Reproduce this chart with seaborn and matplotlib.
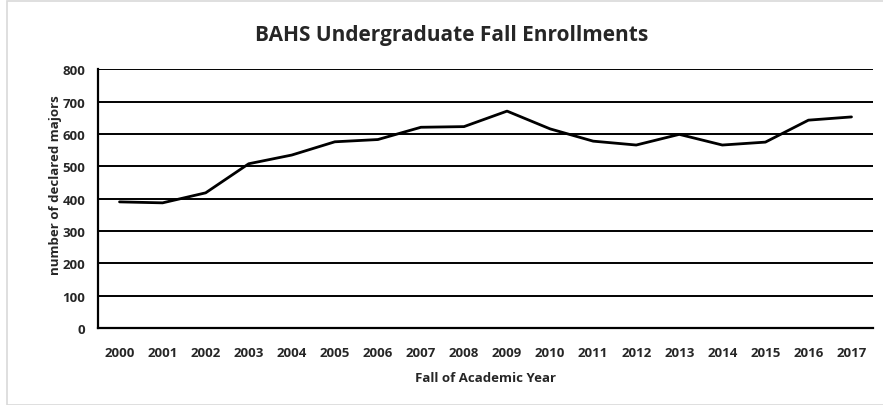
import matplotlib
matplotlib.use("Agg")
import matplotlib.pyplot as plt
import seaborn as sns
import pandas as pd
from matplotlib.patches import Rectangle

years = [str(y) for y in range(2000, 2018)]
majors = [390, 387, 418, 508, 535, 576, 583, 621, 623, 671, 616, 578, 566, 599, 566, 575, 643, 653]
y_ticks = [0, 100, 200, 300, 400, 500, 600, 700, 800]

title = "BAHS Undergraduate Fall Enrollments"
xlabel = "Fall of Academic Year"
ylabel = "number of declared majors"

sns.set_style("white")
plt.rcParams['font.family'] = ['Open Sans', 'DejaVu Sans']

df = pd.DataFrame({"year": years, "majors": majors})
df["pos"] = range(len(years))

fig = plt.figure(figsize=(8.83, 4.06), dpi=100)
ax = fig.add_axes([0.111, 0.19, 0.8777, 0.6365])

# outer border
fig.patches.append(Rectangle((7/883, 0), 1.0, 1 - 2/406, transform=fig.transFigure,
                             fill=False, edgecolor="#d9d9d9", linewidth=1.2))

for v in y_ticks[1:]:
    ax.axhline(v, color="black", linewidth=1.4, zorder=1)

sns.lineplot(data=df, x="pos", y="majors", color="black", linewidth=2.0, ax=ax, zorder=3)

ax.set_xlim(-0.5, len(years) - 0.5)
ax.set_ylim(0, 800)
ax.set_yticks(y_ticks)
ax.set_yticklabels([str(v) for v in y_ticks], fontsize=9.5, fontweight="bold")

ax.set_xticks([i - 0.5 for i in range(len(years) + 1)])
ax.set_xticklabels([])
ax.set_xticks(list(range(len(years))), minor=True)
ax.set_xticklabels(years, minor=True, fontsize=9.5, fontweight="bold")
ax.tick_params(axis="x", which="major", direction="out", length=5, width=1.4, color="black")
ax.tick_params(axis="x", which="minor", length=0, pad=13)
ax.tick_params(axis="y", direction="out", length=5, width=1.4, color="black", pad=4)

for s in ["top", "right"]:
    ax.spines[s].set_visible(False)
for s in ["left", "bottom"]:
    ax.spines[s].set_color("black")
    ax.spines[s].set_linewidth(1.6)

ax.set_xlabel(xlabel, fontsize=9.5, fontweight="bold", labelpad=9)
ax.set_ylabel(ylabel, fontsize=9.5, fontweight="bold")
ax.yaxis.set_label_coords(-0.046, 0.556)
fig.text(0.511, 0.912, title, ha="center", va="center", fontsize=15, fontweight="bold")

fig.savefig("out.png", dpi=100)
